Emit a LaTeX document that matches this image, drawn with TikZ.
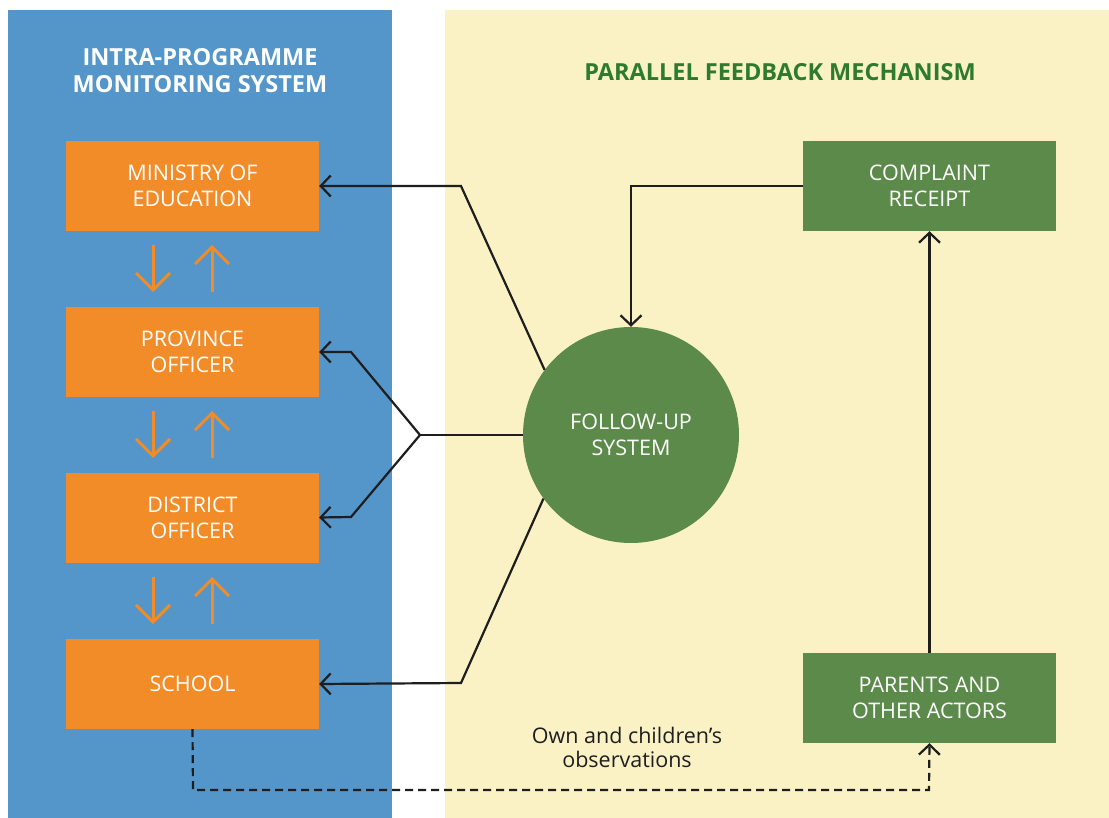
\documentclass[tikz,border=0pt]{standalone}
\usepackage{fontspec}
\setmainfont{Open Sans}
\usetikzlibrary{arrows.meta}
\definecolor{bluebg}{HTML}{5496CA}
\definecolor{yellowbg}{HTML}{FAF1C4}
\definecolor{orangebox}{HTML}{F28C28}
\definecolor{greenbox}{HTML}{5B8A4A}
\definecolor{greentitle}{HTML}{2E7A2F}
\definecolor{darkline}{HTML}{1E1E1E}
\tikzset{
  boxfont/.style={font=\fontsize{21.5}{26}\selectfont},
  obox/.style={fill=orangebox, text=white, minimum width=253pt, minimum height=90pt, inner sep=0pt, align=center, boxfont},
  gbox/.style={fill=greenbox, text=white, minimum width=253pt, minimum height=90pt, inner sep=0pt, align=center, boxfont},
  gcirc/.style={circle, fill=greenbox, text=white, minimum size=216pt, inner sep=0pt, align=center, boxfont},
  conn/.style={draw=darkline, line width=2.2pt, line join=miter, -{Straight Barb[length=10pt,width=21pt,line width=2.2pt]}},
  plainconn/.style={draw=darkline, line width=2.2pt},
  oarrow/.style={draw=orangebox, line width=3pt, -{Straight Barb[length=17pt,width=34pt,line width=3pt]}},
  titletext/.style={font=\fontsize{23.5}{27}\selectfont\bfseries, align=center}
}
\begin{document}
\begin{tikzpicture}[x=1pt,y=-1pt]
\useasboundingbox (0,0) rectangle (1109,818);
\fill[bluebg] (8,10) rectangle (392,818);
\fill[yellowbg] (445,10) rectangle (1109,818);

\node[titletext, text=white] (ltitle) at (200,71) {INTRA-PROGRAMME\\MONITORING SYSTEM};
\node[titletext, text=greentitle] (rtitle) at (780,72) {PARALLEL FEEDBACK MECHANISM};

\node[obox] (moe) at (192.5,186) {MINISTRY OF\\EDUCATION};
\node[obox] (prov) at (192.5,352) {PROVINCE\\OFFICER};
\node[obox] (dist) at (192.5,517.5) {DISTRICT\\OFFICER};
\node[obox] (school) at (192.5,684) {SCHOOL};

\node[gbox] (complaint) at (929.5,186) {COMPLAINT\\RECEIPT};
\node[gbox] (parents) at (929.5,698) {PARENTS AND\\OTHER ACTORS};
\node[gcirc] (follow) at (631,435) {FOLLOW-UP\\SYSTEM};

\node[font=\fontsize{21.5}{24}\selectfont, text=darkline, align=center] (obs) at (627,747) {Own and children’s\\observations};

% orange arrows between the boxes
\foreach \t in {0,166,332}{
  \coordinate (d1) at (153,245+\t);
  \coordinate (d2) at (153,292+\t);
  \coordinate (u1) at (212,292+\t);
  \coordinate (u2) at (212,245+\t);
  \draw[oarrow] (d1) -- (d2);
  \draw[oarrow] (u1) -- (u2);
}

% connectors
\coordinate (b1) at (461,186);
\coordinate (b2) at (461,683);
\coordinate (fork) at (420,435);
\coordinate (fp) at (351,352);
\coordinate (fd) at (351,517);
\coordinate (ctop) at (631,186);
\coordinate (dl) at (193,790);
\coordinate (dr) at (929,790);

\draw[conn] (follow.143.6) -- (b1) -- (moe.east);
\draw[conn] (follow.216.4) -- (b2) -- (school.east);
\draw[plainconn] (follow.west) -- (fork);
\draw[conn] (fork) -- (fp) -- (prov.east);
\draw[conn] (fork) -- (fd) -- (dist.east);
\draw[conn] (complaint.west) -- (ctop) -- (follow.north);
\draw[conn] (parents.north) -- (complaint.south);
\draw[conn, dash pattern=on 8pt off 5pt] (school.south) -- (dl) -- (dr) -- (parents.south);
\end{tikzpicture}
\end{document}
